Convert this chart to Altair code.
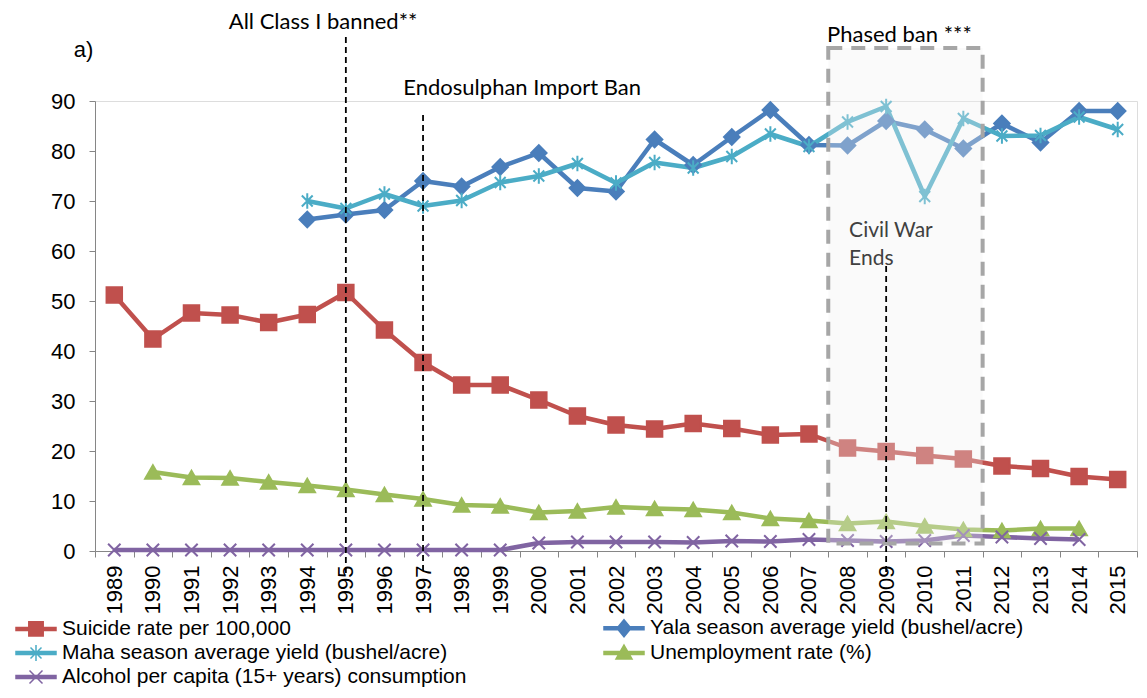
import altair as alt
import pandas as pd

# ---------------- data ----------------
S = "Suicide rate per 100,000"
Y = "Yala season average yield (bushel/acre)"
M = "Maha season average yield (bushel/acre)"
U = "Unemployment rate (%)"
A = "Alcohol per capita (15+ years) consumption"
series_names = [S, Y, M, U, A]
series_colors = ["#C0504D", "#4A7EBB", "#4BACC6", "#9BBB59", "#8064A2"]

suicide_years = [1989, 1990, 1991, 1992, 1993, 1994, 1995, 1996, 1997, 1998, 1999, 2000, 2001, 2002,
                 2003, 2004, 2005, 2006, 2007, 2008, 2009, 2010, 2011, 2012, 2013, 2014, 2015]
suicide = [51.2, 42.4, 47.6, 47.2, 45.7, 47.3, 51.7, 44.2, 37.7, 33.2, 33.2, 30.2, 27.0, 25.2,
           24.4, 25.5, 24.5, 23.2, 23.4, 20.6, 19.9, 19.1, 18.4, 17.0, 16.5, 14.9, 14.3]

yield_years = [1994, 1995, 1996, 1997, 1998, 1999, 2000, 2001, 2002, 2003, 2004, 2005, 2006, 2007,
               2008, 2009, 2010, 2011, 2012, 2013, 2014, 2015]
yala = [66.3, 67.3, 68.2, 74.0, 72.9, 76.8, 79.6, 72.6, 71.9, 82.3, 77.2, 82.8, 88.2, 81.2,
        81.1, 86.0, 84.3, 80.5, 85.5, 81.7, 88.0, 88.0]
maha = [70.0, 68.5, 71.4, 69.0, 70.1, 73.7, 75.0, 77.5, 73.6, 77.7, 76.6, 78.9, 83.4, 80.9,
        85.8, 88.9, 70.9, 86.5, 83.0, 83.1, 86.8, 84.3]

unemp_years = [1990, 1991, 1992, 1993, 1994, 1995, 1996, 1997, 1998, 1999, 2000, 2001, 2002,
               2003, 2004, 2005, 2006, 2007, 2008, 2009, 2010, 2011, 2012, 2013, 2014]
unemp = [15.8, 14.7, 14.6, 13.8, 13.1, 12.3, 11.3, 10.4, 9.2, 9.0, 7.7, 8.0, 8.8,
         8.5, 8.3, 7.7, 6.5, 6.1, 5.5, 5.9, 5.0, 4.3, 4.1, 4.5, 4.5]

alcohol_years = [1989, 1990, 1991, 1992, 1993, 1994, 1995, 1996, 1997, 1998, 1999, 2000, 2001,
                 2002, 2003, 2004, 2005, 2006, 2007, 2008, 2009, 2010, 2011, 2012, 2013, 2014]
alcohol = [0.2, 0.2, 0.2, 0.2, 0.2, 0.2, 0.2, 0.2, 0.2, 0.2, 0.2, 1.6, 1.8,
           1.8, 1.8, 1.7, 2.0, 1.9, 2.3, 2.1, 1.9, 2.1, 3.1, 2.8, 2.5, 2.3]

tick_years = [1989, 1990, 1991, 1992, 1993, 1994, 1995, 1996, 1997, 1998, 1999, 2000, 2001, 2002,
              2003, 2004, 2005, 2006, 2007, 2008, 2009, 2010, 2011, 2012, 2013, 2014, 2015]
y_ticks = [0, 10, 20, 30, 40, 50, 60, 70, 80, 90]

# annotations
event_years = [1995, 1997, 2009]
event_tops = [102.8, 87.2, 57.0]
event_bottom = -4.8
phase_box = {"x0": 2007.5, "x1": 2011.5, "y0": 1.5, "y1": 100.6}
labels_text = ["All Class I banned**", "Endosulphan Import Ban", "Phased ban ***", "Civil War", "Ends"]
labels_x = [1994.41, 1996.49, 2007.47, 2008.04, 2008.04]
labels_y = [105.9, 92.6, 103.2, 64.0, 58.4]
labels_align = ["center", "left", "left", "left", "left"]
labels_color = ["#000000", "#000000", "#000000", "#404040", "#404040"]
labels_size = [22, 22, 22, 21, 21]

# ---------------- frames ----------------
rows = []
for name, xs, vs in [(S, suicide_years, suicide), (Y, yield_years, yala), (M, yield_years, maha),
                     (U, unemp_years, unemp), (A, alcohol_years, alcohol)]:
    for x, v in zip(xs, vs):
        rows.append({"series": name, "year": x, "value": v})
df = pd.DataFrame(rows)

marker_paths = [
    "square",
    "diamond",
    "M-0.7,-0.7L0.7,0.7M-0.7,0.7L0.7,-0.7M0,-1V1",
    "triangle-up",
    "M-0.8,-0.8L0.8,0.8M-0.8,0.8L0.8,-0.8",
]
BAR = "M-2,-0.15H2V0.15H-2Z "
legend_paths = [
    BAR + "M-0.72,-0.72H0.72V0.72H-0.72Z",
    BAR + "M0,-0.85L0.7,0L0,0.85L-0.7,0Z",
    BAR + "M-0.55,-0.55L0.55,0.55M-0.55,0.55L0.55,-0.55M0,-0.8V0.8",
    BAR + "M0,-0.8L0.8,0.6L-0.8,0.6Z",
    BAR + "M-0.65,-0.65L0.65,0.65M-0.65,0.65L0.65,-0.65",
]
# legend is filled column by column (3 rows): S, M, A | Y, U
legend_order = [0, 2, 4, 1, 3]
leg_names = [series_names[i] for i in legend_order]
leg_colors = [series_colors[i] for i in legend_order]
leg_paths = [legend_paths[i] for i in legend_order]

xscale = alt.Scale(domain=[1988.5, 2015.5], nice=False, zero=False)
yscale = alt.Scale(domain=[0, 90], nice=False, zero=True)
cscale = alt.Scale(domain=series_names, range=series_colors)

AXIS_GRAY = "#868686"
main_x_axis = alt.Axis(values=tick_years, format="d", labelAngle=-90, labelAlign="right",
                       labelBaseline="middle", tickSize=0, labelPadding=14, labelFontSize=22,
                       labelFont="Liberation Sans", labelColor="#000000", domainColor=AXIS_GRAY,
                       grid=False, title=None, labelOverlap=False, labelFlush=False, orient="bottom")
tick_x_axis = alt.Axis(values=[t - 0.5 for t in tick_years] + [tick_years[-1] + 0.5], labels=False,
                       tickSize=6, tickColor=AXIS_GRAY, domain=False, grid=False, title=None,
                       orient="bottom")
y_axis = alt.Axis(values=y_ticks, tickSize=6, tickColor=AXIS_GRAY, domainColor=AXIS_GRAY,
                  labelPadding=14, labelFontSize=22, labelFont="Liberation Sans",
                  labelColor="#000000", grid=False, title=None, orient="left")

base = alt.Chart(df)

lines = base.mark_line(strokeWidth=4.5, strokeJoin="round").encode(
    x=alt.X("year:Q", scale=xscale, axis=main_x_axis),
    y=alt.Y("value:Q", scale=yscale, axis=y_axis),
    color=alt.Color("series:N", scale=cscale, legend=None),
    detail="series:N",
)

points = base.mark_point(filled=True, opacity=1, size=240, strokeWidth=2).encode(
    x=alt.X("year:Q", scale=xscale, axis=None),
    y=alt.Y("value:Q", scale=yscale, axis=None),
    fill=alt.Fill("series:N", scale=alt.Scale(domain=series_names, range=series_colors), legend=None),
    stroke=alt.Stroke("series:N", scale=alt.Scale(domain=series_names, range=series_colors), legend=None),
    shape=alt.Shape("series:N", scale=alt.Scale(domain=series_names, range=marker_paths), legend=None),
)

box_df = pd.DataFrame([phase_box])
box = alt.Chart(box_df).mark_rect(fill="#EEEEEE", fillOpacity=0.32, stroke="#A6A6A6",
                                  strokeWidth=4, strokeDash=[14, 9]).encode(
    x=alt.X("x0:Q", scale=xscale, axis=tick_x_axis),
    x2="x1:Q",
    y=alt.Y("y0:Q", scale=yscale, axis=None),
    y2="y1:Q",
)

ev_df = pd.DataFrame({"year": event_years, "top": event_tops, "bottom": [event_bottom] * len(event_years)})
rules = alt.Chart(ev_df).mark_rule(color="#000000", strokeWidth=1.8, strokeDash=[6, 4]).encode(
    x=alt.X("year:Q", scale=xscale, axis=None),
    y=alt.Y("top:Q", scale=yscale, axis=None),
    y2="bottom:Q",
)

txt_df = pd.DataFrame({"text": labels_text, "x": labels_x, "y": labels_y,
                       "align": labels_align, "color": labels_color, "size": labels_size})


def text_layer(align):
    return alt.Chart(txt_df[txt_df["align"] == align]).mark_text(
        font="Lato", align=align, baseline="middle").encode(
        x=alt.X("x:Q", scale=xscale, axis=None),
        y=alt.Y("y:Q", scale=yscale, axis=None),
        text="text:N",
        color=alt.Color("color:N", scale=None),
        size=alt.Size("size:Q", scale=None),
    )


texts_center = text_layer("center")
texts_left = text_layer("left")

panel_df = pd.DataFrame({"text": ["a)"], "x": [1988.2], "y": [100.2]})
panel = alt.Chart(panel_df).mark_text(font="Liberation Sans", fontSize=22, align="center",
                                      baseline="middle", color="#000000").encode(
    x=alt.X("x:Q", scale=xscale, axis=None),
    y=alt.Y("y:Q", scale=yscale, axis=None),
    text="text:N",
)

leg = alt.Legend(orient="none", legendX=-70, legendY=516, columns=2, columnPadding=134,
                 rowPadding=2, symbolSize=400, labelOffset=15, labelFontSize=21,
                 labelFont="Liberation Sans", labelColor="#000000", labelLimit=800, title=None,
                 symbolStrokeWidth=1.5, symbolOpacity=1, padding=0)
legend_layer = base.transform_filter("false").mark_point(filled=True, opacity=1).encode(
    fill=alt.Fill("series:N", scale=alt.Scale(domain=leg_names, range=leg_colors), legend=leg),
    stroke=alt.Stroke("series:N", scale=alt.Scale(domain=leg_names, range=leg_colors), legend=leg),
    shape=alt.Shape("series:N", scale=alt.Scale(domain=leg_names, range=leg_paths), legend=leg),
)

chart = alt.layer(lines, points, box, rules, texts_center, texts_left, panel, legend_layer).resolve_scale(
    shape="independent", fill="independent", stroke="independent"
).resolve_axis(x="independent", y="independent").properties(
    width=1042, height=450,
    autosize=alt.AutoSizeParams(type="none"),
    padding={"left": 87, "top": 93, "right": 2, "bottom": 139},
).configure_view(stroke=None).configure(background="#FFFFFF")

chart.save("out.html", embed_options={"renderer": "svg", "actions": False})
